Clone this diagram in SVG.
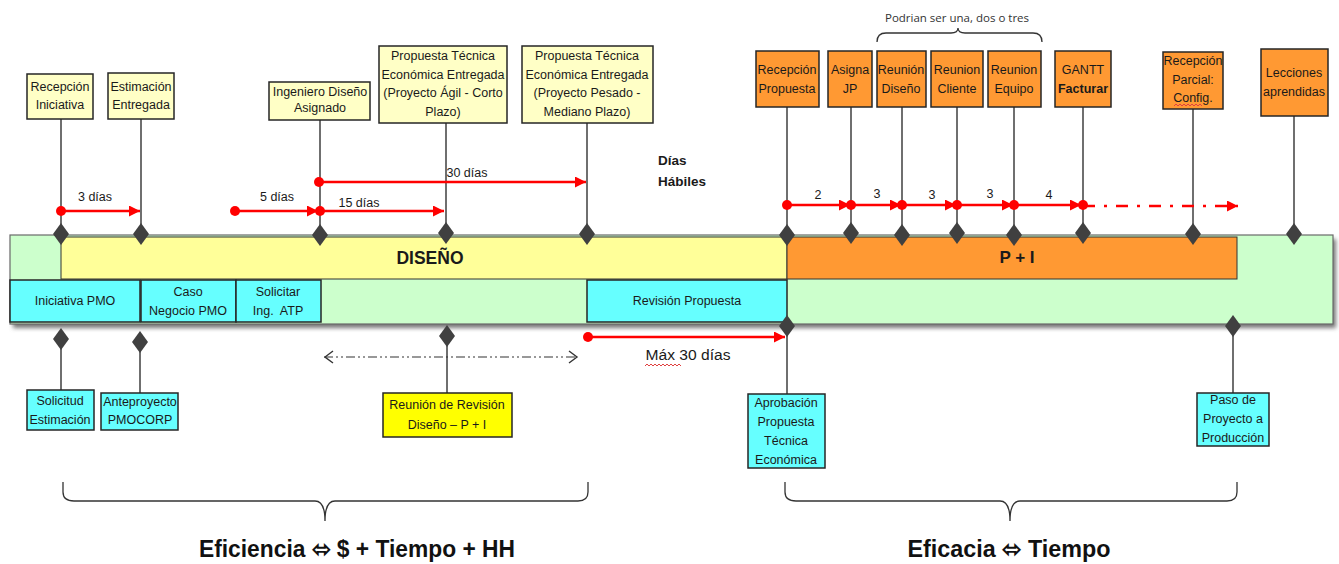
<svg xmlns="http://www.w3.org/2000/svg" width="1339" height="564" viewBox="0 0 1339 564">
<defs>
<style>
.t{font-family:"Liberation Sans Narrow","Liberation Sans",Arial,sans-serif;font-size:12.5px;fill:#1a1a1a;text-anchor:middle}
.b{font-weight:bold}
.ly{fill:#FFFFC6;stroke:#262626;stroke-width:1.5}
.or{fill:#FF9933;stroke:#262626;stroke-width:1.5}
.cy{fill:#66FFFF;stroke:#262626;stroke-width:1.5}
.yl{fill:#FFFF00;stroke:#262626;stroke-width:1.5}
.stem{stroke:#404040;stroke-width:1.5;fill:none}
.dia{fill:#404040}
.red{stroke:#FF0000;stroke-width:2.5;fill:none}
.dot{fill:#FF0000}
.brace{stroke:#333;stroke-width:1.3;fill:none}
.big{font-family:"Liberation Sans Narrow","Liberation Sans",Arial,sans-serif;font-size:23px;font-weight:bold;fill:#111;text-anchor:middle}
.sq{stroke:#E04040;stroke-width:1;fill:none}
</style>
<path id="dm" class="dia" d="M0,-11 L8,0 L0,11 L-8,0Z"/>
<marker id="ra" viewBox="0 0 10 10" refX="10" refY="5" markerUnits="userSpaceOnUse" markerWidth="13" markerHeight="11" orient="auto"><path d="M0,0 L10,5 L0,10Z" fill="#FF0000"/></marker>
<marker id="oa" viewBox="0 0 10 14" refX="10" refY="7" markerUnits="userSpaceOnUse" markerWidth="11" markerHeight="14" orient="auto-start-reverse"><path d="M1,1 L9,7 L1,13" fill="none" stroke="#333" stroke-width="1.4"/></marker>
<filter id="sh" x="-5%" y="-20%" width="110%" height="150%"><feGaussianBlur stdDeviation="2"/></filter>
</defs>
<rect width="1339" height="564" fill="#FFFFFF"/>

<!-- main bar -->
<g id="bar">
<rect x="13" y="239" width="1323" height="89" fill="#777" filter="url(#sh)"/>
<rect x="10" y="235" width="1323" height="89" fill="#CCFFCC" stroke="#6a6a6a" stroke-width="1.2"/>
<rect x="61" y="237" width="726" height="42" fill="#FFFF99" stroke="#333" stroke-width="1"/>
<text class="t b" x="430" y="264" style="font-family:'Liberation Sans',Arial,sans-serif;font-size:17.5px">DISEÑO</text>
<rect x="787" y="237" width="450" height="42" fill="#FF9933" stroke="#333" stroke-width="1"/>
<text class="t b" x="1017" y="263" style="font-family:'Liberation Sans',Arial,sans-serif;font-size:17px">P + I</text>
</g>
<g id="iniciativa-pmo"><rect class="cy" x="10" y="280" width="130" height="42"/><text class="t" x="75" y="305">Iniciativa PMO</text></g>
<g id="caso-negocio"><rect class="cy" x="141" y="280" width="95" height="42"/><text class="t" x="188" y="296">Caso</text><text class="t" x="188" y="315">Negocio PMO</text></g>
<g id="solicitar-atp"><rect class="cy" x="236" y="280" width="85" height="42"/><text class="t" x="278" y="296">Solicitar</text><text class="t" x="278" y="315" xml:space="preserve">Ing.  ATP</text></g>
<g id="revision-propuesta"><rect class="cy" x="587" y="280" width="200" height="42"/><text class="t" x="687" y="305">Revisión Propuesta</text></g>

<!-- connectors -->
<g id="connectors">
<path class="stem" d="M61,119V234 M141,119V234 M320,120V234 M446,123V234 M587,123V234 M787,107V234 M851,107V234 M902,107V234 M957,107V234 M1014,107V234 M1083,107V234 M1193,109V234 M1294,116V234"/>
<path class="stem" d="M61,339V390 M140,342V393 M447,336V393 M787,326V394 M1233,326V393"/>
<use href="#dm" x="61" y="234"/><use href="#dm" x="141" y="234"/><use href="#dm" x="320" y="235"/><use href="#dm" x="446" y="233"/><use href="#dm" x="587" y="234"/><use href="#dm" x="787" y="235"/><use href="#dm" x="851" y="233"/><use href="#dm" x="902" y="235"/><use href="#dm" x="957" y="233"/><use href="#dm" x="1014" y="235"/><use href="#dm" x="1083" y="233"/><use href="#dm" x="1193" y="234"/><use href="#dm" x="1294" y="234"/>
<use href="#dm" x="61" y="339"/><use href="#dm" x="140" y="342"/><use href="#dm" x="447" y="336"/><use href="#dm" x="787" y="326"/><use href="#dm" x="1233" y="326"/>

<!-- red duration arrows -->
<line class="red" x1="61" y1="211" x2="140" y2="211" marker-end="url(#ra)"/><circle class="dot" cx="61" cy="211" r="5"/>
<line class="red" x1="235" y1="211" x2="318" y2="211" marker-end="url(#ra)"/><circle class="dot" cx="235" cy="211" r="5"/>
<line class="red" x1="320" y1="211" x2="444" y2="211" marker-end="url(#ra)"/><circle class="dot" cx="320" cy="211" r="5"/>
<line class="red" x1="319" y1="182" x2="586" y2="182" marker-end="url(#ra)"/><circle class="dot" cx="319" cy="182" r="5"/>
<line class="red" x1="587" y1="337" x2="785" y2="337" marker-end="url(#ra)"/><circle class="dot" cx="588" cy="337" r="5"/>
<line class="red" x1="787" y1="205" x2="850" y2="205" marker-end="url(#ra)"/>
<line class="red" x1="851" y1="205" x2="901" y2="205" marker-end="url(#ra)"/>
<line class="red" x1="902" y1="205" x2="956" y2="205" marker-end="url(#ra)"/>
<line class="red" x1="957" y1="205" x2="1013" y2="205" marker-end="url(#ra)"/>
<line class="red" x1="1014" y1="205" x2="1081" y2="205" marker-end="url(#ra)"/>
<line class="red" x1="1083" y1="206" x2="1238" y2="206" stroke-dasharray="12 9 3 9" marker-end="url(#ra)"/>
<circle class="dot" cx="787" cy="205" r="5"/><circle class="dot" cx="851" cy="205" r="5"/><circle class="dot" cx="902" cy="205" r="5"/><circle class="dot" cx="957" cy="205" r="5"/><circle class="dot" cx="1014" cy="205" r="5"/><circle class="dot" cx="1083" cy="205" r="5"/>
<line x1="324" y1="357" x2="578" y2="357" stroke="#333" stroke-width="1.2" stroke-dasharray="9 3 2 3 2 3" marker-start="url(#oa)" marker-end="url(#oa)"/>
</g>

<!-- duration labels -->
<g id="labels">
<text class="t" x="95" y="201">3 días</text>
<text class="t" x="277" y="201">5 días</text>
<text class="t" x="359" y="207">15 días</text>
<text class="t" x="467" y="177">30 días</text>
<text class="b" x="658" y="165" style="font-family:'Liberation Sans',Arial,sans-serif;font-size:13.5px;fill:#1a1a1a">Días</text>
<text class="b" x="658" y="186" style="font-family:'Liberation Sans',Arial,sans-serif;font-size:13.5px;fill:#1a1a1a">Hábiles</text>
<text class="t" x="818" y="199">2</text>
<text class="t" x="877" y="198">3</text>
<text class="t" x="932" y="199">3</text>
<text class="t" x="990" y="198">3</text>
<text class="t" x="1049" y="199">4</text>
<text class="t" x="688" y="360" style="font-size:14px" textLength="85" lengthAdjust="spacingAndGlyphs">Máx 30 días</text>
<path class="sq" d="M645,366 l2,-2 2,2 2,-2 2,2 2,-2 2,2 2,-2 2,2 2,-2 2,2 2,-2 2,2 2,-2 2,2 2,-2 2,2 2,-2 2,2"/>
<text x="957" y="22" style="font-family:'Open Sans',sans-serif;font-size:11.5px;fill:#333;text-anchor:middle">Podrian ser una, dos o tres</text>
</g>

<!-- top milestones -->
<g id="recepcion-iniciativa"><rect class="ly" x="27" y="74" width="66" height="45"/><text class="t" x="60" y="91">Recepción</text><text class="t" x="60" y="109">Iniciativa</text></g>
<g id="estimacion-entregada"><rect class="ly" x="108" y="73" width="66" height="46"/><text class="t" x="141" y="91">Estimación</text><text class="t" x="141" y="109">Entregada</text></g>
<g id="ingeniero-diseno"><rect class="ly" x="269" y="82" width="101" height="38"/><text class="t" x="320" y="96">Ingeniero Diseño</text><text class="t" x="320" y="112">Asignado</text></g>
<g id="propuesta-agil"><rect class="ly" x="379" y="46" width="128" height="77"/><text class="t" x="443" y="60">Propuesta Técnica</text><text class="t" x="443" y="79">Económica Entregada</text><text class="t" x="443" y="97">(Proyecto Ágil - Corto</text><text class="t" x="443" y="116">Plazo)</text></g>
<g id="propuesta-pesado"><rect class="ly" x="522" y="46" width="131" height="77"/><text class="t" x="587" y="60">Propuesta Técnica</text><text class="t" x="587" y="79">Económica Entregada</text><text class="t" x="587" y="97">(Proyecto Pesado -</text><text class="t" x="587" y="116">Mediano Plazo)</text></g>

<g id="recepcion-propuesta"><rect class="or" x="756" y="51" width="63" height="56"/><text class="t" x="787" y="74">Recepción</text><text class="t" x="787" y="93">Propuesta</text></g>
<g id="asigna-jp"><rect class="or" x="828" y="51" width="44" height="56"/><text class="t" x="850" y="74">Asigna</text><text class="t" x="850" y="93">JP</text></g>
<g id="reunion-diseno"><rect class="or" x="877" y="51" width="49" height="56"/><text class="t" x="901" y="74">Reunión</text><text class="t" x="901" y="93">Diseño</text></g>
<g id="reunion-cliente"><rect class="or" x="931" y="51" width="52" height="56"/><text class="t" x="957" y="74">Reunion</text><text class="t" x="957" y="93">Cliente</text></g>
<g id="reunion-equipo"><rect class="or" x="988" y="51" width="53" height="56"/><text class="t" x="1014" y="74">Reunion</text><text class="t" x="1014" y="93">Equipo</text></g>
<g id="gantt-facturar"><rect class="or" x="1055" y="51" width="56" height="56"/><text class="t" x="1083" y="74">GANTT</text><text class="t b" x="1083" y="93">Facturar</text></g>
<g id="recepcion-parcial"><rect class="or" x="1163" y="52" width="60" height="57"/><text class="t" x="1193" y="65">Recepción</text><text class="t" x="1193" y="84">Parcial:</text><text class="t" x="1193" y="102">Config.</text><path class="sq" d="M1174,106 l2,-2 2,2 2,-2 2,2 2,-2 2,2 2,-2 2,2 2,-2 2,2 2,-2 2,2 2,-2 2,2"/></g>
<g id="lecciones-aprendidas"><rect class="or" x="1261" y="49" width="67" height="67"/><text class="t" x="1294" y="77">Lecciones</text><text class="t" x="1294" y="96">aprendidas</text></g>

<!-- bottom milestones -->
<g id="solicitud-estimacion"><rect class="cy" x="27" y="390" width="67" height="40"/><text class="t" x="60" y="405">Solicitud</text><text class="t" x="60" y="424">Estimación</text></g>
<g id="anteproyecto"><rect class="cy" x="101" y="393" width="77" height="37"/><text class="t" x="140" y="406">Anteproyecto</text><text class="t" x="140" y="424">PMOCORP</text></g>
<g id="reunion-revision"><rect class="yl" x="383" y="393" width="129" height="44"/><text class="t" x="447" y="409">Reunión de Revisión</text><text class="t" x="447" y="429">Diseño – P + I</text></g>
<g id="aprobacion-propuesta"><rect class="cy" x="748" y="394" width="77" height="74"/><text class="t" x="786" y="407">Aprobación</text><text class="t" x="786" y="426">Propuesta</text><text class="t" x="786" y="445">Técnica</text><text class="t" x="786" y="464">Económica</text></g>
<g id="paso-produccion"><rect class="cy" x="1197" y="393" width="72" height="53"/><text class="t" x="1233" y="404">Paso de</text><text class="t" x="1233" y="423">Proyecto a</text><text class="t" x="1233" y="442">Producción</text></g>

<!-- braces -->
<g id="braces">
<path class="brace" d="M877,42 Q877,33 886,33 H951 Q958,33 958,28 Q958,33 965,33 H1033 Q1042,33 1042,42"/>
<path class="brace" d="M63,482 V492 Q63,501 74,501 H315 Q325,501 325,521 Q325,501 335,501 H578 Q588,501 588,492 V482" stroke-width="1.4"/>
<path class="brace" d="M785,482 V492 Q785,501 796,501 H1000 Q1010,501 1010,521 Q1010,501 1020,501 H1227 Q1237,501 1237,492 V482" stroke-width="1.4"/>
<text class="big" x="357" y="557" textLength="316" lengthAdjust="spacingAndGlyphs">Eficiencia ⬄ $ + Tiempo + HH</text>
<text class="big" x="1009" y="557" textLength="203" lengthAdjust="spacingAndGlyphs">Eficacia ⬄ Tiempo</text>
</g>
</svg>
